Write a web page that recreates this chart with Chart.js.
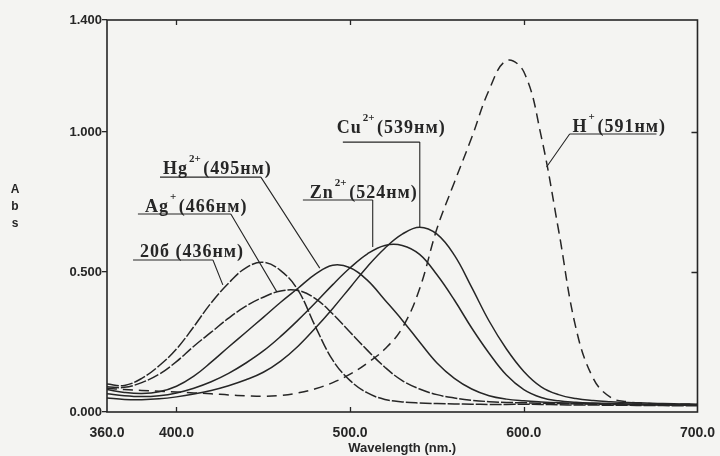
<!DOCTYPE html>
<html>
<head>
<meta charset="utf-8">
<title>Absorption spectra</title>
<script src="https://cdn.jsdelivr.net/npm/chart.js@4.4.1/dist/chart.umd.min.js"></script>
<style>
  html, body { margin: 0; padding: 0; background: #f4f4f2; }
  #wrap { width: 720px; height: 456px; }
</style>
</head>
<body>
<div id="wrap"><canvas id="spectra" width="720" height="456"></canvas></div>
<script>
// wavelength grid, nm
const wavelengths = [360, 370, 380, 390, 400, 410, 420, 430, 440, 450, 460, 470, 480, 490, 500, 510, 520,
  530, 540, 550, 560, 570, 580, 590, 600, 610, 620, 630, 640, 650, 660, 670, 680, 690, 700];

// absorbance
const abs20b = [0.100, 0.095, 0.120, 0.165, 0.225, 0.305, 0.390, 0.460, 0.515, 0.535, 0.505, 0.435, 0.305,
  0.185, 0.112, 0.068, 0.045, 0.036, 0.032, 0.030, 0.029, 0.028, 0.027, 0.027, 0.028, 0.027, 0.026, 0.025,
  0.025, 0.024, 0.024, 0.023, 0.023, 0.022, 0.022];
const absAg = [0.090, 0.088, 0.105, 0.135, 0.180, 0.235, 0.285, 0.335, 0.378, 0.410, 0.432, 0.434, 0.405,
  0.350, 0.285, 0.220, 0.160, 0.112, 0.082, 0.062, 0.050, 0.042, 0.037, 0.034, 0.033, 0.031, 0.030, 0.029,
  0.028, 0.027, 0.026, 0.025, 0.025, 0.024, 0.024];
const absHg = [0.080, 0.070, 0.066, 0.072, 0.092, 0.128, 0.178, 0.232, 0.285, 0.338, 0.392, 0.442, 0.492,
  0.524, 0.515, 0.470, 0.400, 0.328, 0.250, 0.175, 0.120, 0.082, 0.058, 0.046, 0.040, 0.036, 0.033, 0.031,
  0.030, 0.029, 0.028, 0.027, 0.026, 0.026, 0.025];
const absZn = [0.065, 0.058, 0.055, 0.058, 0.068, 0.085, 0.108, 0.138, 0.175, 0.218, 0.270, 0.328, 0.390,
  0.455, 0.515, 0.565, 0.595, 0.595, 0.563, 0.490, 0.400, 0.300, 0.210, 0.132, 0.080, 0.052, 0.040, 0.035,
  0.032, 0.030, 0.029, 0.028, 0.027, 0.027, 0.026];
const absCu = [0.050, 0.045, 0.044, 0.047, 0.054, 0.064, 0.077, 0.094, 0.115, 0.142, 0.182, 0.235, 0.300,
  0.370, 0.445, 0.520, 0.585, 0.635, 0.660, 0.635, 0.560, 0.445, 0.325, 0.225, 0.145, 0.090, 0.062, 0.048,
  0.041, 0.037, 0.034, 0.032, 0.030, 0.029, 0.028];
const absH = [0.085, 0.080, 0.077, 0.074, 0.071, 0.068, 0.065, 0.061, 0.058, 0.056, 0.059, 0.068, 0.083,
  0.105, 0.135, 0.175, 0.225, 0.300, 0.440, 0.655, 0.820, 0.980, 1.150, 1.255, 1.215, 0.985, 0.650, 0.300,
  0.120, 0.052, 0.036, 0.031, 0.029, 0.028, 0.027];

const xTicks = [360, 400, 500, 600, 700];
const yTicks = [0, 0.5, 1.0, 1.4];
const innerXTicks = [400, 500, 600];
const innerYTicks = [0.5, 1.0];

const ink = '#262626';

// callout labels, anchored in data units (nm, absorbance)
const callouts = [
  { base: '20б', sup: '', rest: ' (436нм)', x: 379.0, y: 0.554, ul: [375.0, 421.0, 0.543], leader: [421.0, 0.543, 426.7, 0.454] },
  { base: 'Ag', sup: '+', rest: ' (466нм)', x: 381.9, y: 0.714, ul: [377.8, 431.3, 0.707], leader: [431.3, 0.707, 457.8, 0.429] },
  { base: 'Hg', sup: '2+', rest: ' (495нм)', x: 392.2, y: 0.850, ul: [390.5, 448.6, 0.839], leader: [448.6, 0.839, 482.5, 0.514] },
  { base: 'Zn', sup: '2+', rest: ' (524нм)', x: 476.8, y: 0.764, ul: [472.8, 513.0, 0.757], leader: [513.0, 0.757, 513.0, 0.589] },
  { base: 'Cu', sup: '2+', rest: ' (539нм)', x: 492.3, y: 0.996, ul: [495.8, 540.1, 0.964], leader: [540.1, 0.964, 540.1, 0.661] },
  { base: 'H', sup: '+', rest: ' (591нм)', x: 628.1, y: 1.000, ul: [626.4, 676.4, 0.993], leader: [626.4, 0.993, 613.1, 0.875] }
];

const series = [
  { label: '20б', data: abs20b, dash: [12, 2] },
  { label: 'Ag+', data: absAg, dash: [12, 2] },
  { label: 'Hg2+', data: absHg, dash: [] },
  { label: 'Zn2+', data: absZn, dash: [] },
  { label: 'Cu2+', data: absCu, dash: [] },
  { label: 'H+', data: absH, dash: [10, 6] }
];

const frame = {
  id: 'frame',
  afterDraw(chart) {
    const { ctx, chartArea: a, scales: { x, y } } = chart;
    ctx.save();
    ctx.strokeStyle = ink;
    ctx.lineWidth = 1.6;
    ctx.strokeRect(a.left, a.top, a.right - a.left, a.bottom - a.top);

    // inward tick marks on bottom, top and right
    ctx.lineWidth = 1.3;
    ctx.beginPath();
    innerXTicks.forEach(v => {
      const px = Math.round(x.getPixelForValue(v)) + 0.5;
      ctx.moveTo(px, a.bottom); ctx.lineTo(px, a.bottom - 5);
      ctx.moveTo(px, a.top); ctx.lineTo(px, a.top + 5);
    });
    innerYTicks.forEach(v => {
      const py = Math.round(y.getPixelForValue(v)) + 0.5;
      ctx.moveTo(a.right, py); ctx.lineTo(a.right - 6, py);
    });
    ctx.stroke();

    // stacked y title
    ctx.fillStyle = ink;
    ctx.font = 'bold 12px "Liberation Sans", sans-serif';
    ctx.textAlign = 'center';
    ctx.textBaseline = 'middle';
    ['A', 'b', 's'].forEach((ch, i) => ctx.fillText(ch, 15, 190 + i * 17));
    ctx.restore();
  }
};

const labels = {
  id: 'calloutLabels',
  afterDatasetsDraw(chart) {
    const { ctx, scales: { x, y } } = chart;
    ctx.save();
    ctx.fillStyle = ink;
    ctx.strokeStyle = ink;
    ctx.lineWidth = 1.1;
    ctx.textBaseline = 'alphabetic';
    ctx.textAlign = 'left';
    callouts.forEach(c => {
      const px = x.getPixelForValue(c.x);
      const py = y.getPixelForValue(c.y);
      ctx.font = 'bold 18px "Liberation Serif", "DejaVu Serif", serif';
      ctx.letterSpacing = '1px';
      ctx.fillText(c.base, px, py);
      const wBase = ctx.measureText(c.base).width;
      let offset = wBase;
      if (c.sup) {
        ctx.font = 'bold 11px "Liberation Serif", serif';
        ctx.letterSpacing = '0px';
        ctx.fillText(c.sup, px + wBase + 1, py - 12);
        offset = wBase + Math.max(ctx.measureText(c.sup).width - 2, 2);
      }
      ctx.font = 'bold 18px "Liberation Serif", "DejaVu Serif", serif';
      ctx.letterSpacing = '1px';
      ctx.fillText(c.rest, px + offset, py);

      ctx.beginPath();
      const uy = y.getPixelForValue(c.ul[2]);
      ctx.moveTo(x.getPixelForValue(c.ul[0]), uy);
      ctx.lineTo(x.getPixelForValue(c.ul[1]), uy);
      ctx.moveTo(x.getPixelForValue(c.leader[0]), y.getPixelForValue(c.leader[1]));
      ctx.lineTo(x.getPixelForValue(c.leader[2]), y.getPixelForValue(c.leader[3]));
      ctx.stroke();
    });
    ctx.restore();
  }
};

const tickFont = { family: '"Liberation Sans", sans-serif', size: 14, weight: 'bold' };

new Chart(document.getElementById('spectra'), {
  type: 'line',
  data: {
    datasets: series.map(s => ({
      label: s.label,
      data: wavelengths.map((w, i) => ({ x: w, y: s.data[i] })),
      borderColor: ink,
      borderWidth: 1.5,
      borderDash: s.dash,
      pointRadius: 0,
      tension: 0.4,
      fill: false
    }))
  },
  options: {
    responsive: false,
    animation: false,
    devicePixelRatio: 1,
    layout: { padding: { top: 20, right: 22, bottom: 0, left: 0 } },
    plugins: { legend: { display: false }, tooltip: { enabled: false } },
    scales: {
      x: {
        type: 'linear',
        min: 360,
        max: 700,
        afterBuildTicks: scale => { scale.ticks = xTicks.map(v => ({ value: v })); },
        afterFit: scale => { scale.height = 44; },
        grid: { display: false },
        border: { display: false },
        ticks: {
          color: ink,
          font: tickFont,
          padding: 5,
          maxRotation: 0,
          autoSkip: false,
          callback: v => Number(v).toFixed(1)
        },
        title: {
          display: true,
          text: 'Wavelength (nm.)',
          color: ink,
          font: { family: '"Liberation Sans", sans-serif', size: 13, weight: 'bold' },
          padding: { top: 0, bottom: 0 }
        }
      },
      y: {
        min: 0,
        max: 1.4,
        afterBuildTicks: scale => { scale.ticks = yTicks.map(v => ({ value: v })); },
        afterFit: scale => { scale.width = 107; },
        grid: { drawOnChartArea: false, drawTicks: true, tickLength: 5, color: ink, lineWidth: 1.3 },
        border: { display: false },
        ticks: {
          color: ink,
          font: { family: '"Liberation Sans", sans-serif', size: 13, weight: 'bold' },
          padding: 0,
          autoSkip: false,
          callback: v => Number(v).toFixed(3)
        }
      }
    }
  },
  plugins: [frame, labels]
});
</script>
</body>
</html>
